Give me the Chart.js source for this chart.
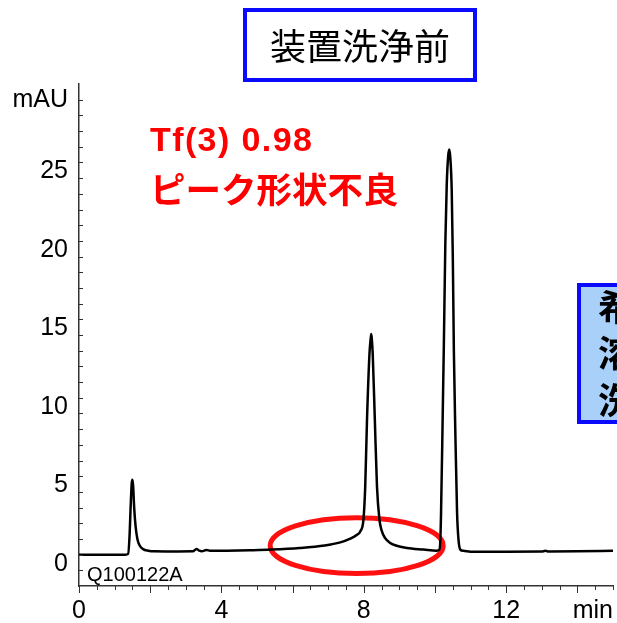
<!DOCTYPE html>
<html lang="ja">
<head>
<meta charset="utf-8">
<title>装置洗浄前</title>
<script src="https://cdn.jsdelivr.net/npm/chart.js@4.4.1/dist/chart.umd.min.js"></script>
<style>
    html, body {
        margin: 0;
        padding: 0;
        background: #fff;
        overflow: hidden;
    }
    #chromatogram {
        display: block;
    }
</style>
</head>
<body>
<canvas id="chromatogram" width="617" height="623"></canvas>
<script>
const sampleName = "Q100122A";
const yUnit = "mAU";
const xUnit = "min";
const titleText = "装置洗浄前";
const noteLines = ["Tf(3) 0.98", "ピーク形状不良"];
const sideLines = ["希硝酸", "溶液で", "洗浄後"];

const xTickLabels = [0, 4, 8, 12];
const yTickLabels = [0, 5, 10, 15, 20, 25];

const retentionTimes = [
    0.00, 0.50, 1.00, 1.30, 1.38, 1.42, 1.45, 1.48, 1.50, 1.52,
    1.55, 1.59, 1.64, 1.70, 1.80, 1.95, 2.10, 2.60, 3.20, 3.30,
    3.38, 3.45, 3.58, 3.70, 4.15, 4.80, 5.40, 6.20, 6.90, 7.34,
    7.62, 7.80, 7.90, 7.99, 8.04, 8.09, 8.16, 8.19, 8.21, 8.23,
    8.25, 8.31, 8.37, 8.44, 8.50, 8.60, 8.72, 8.90, 9.21, 9.68,
    10.05, 10.12, 10.15, 10.17, 10.21, 10.25, 10.29, 10.33, 10.37, 10.40,
    10.43, 10.47, 10.50, 10.53, 10.57, 10.62, 10.66, 10.71, 10.80, 11.08,
    12.00, 13.00, 13.10, 13.20, 14.00, 15.00
];

const absorbance = [
    0.00, 0.00, 0.00, 0.00, 0.05, 1.20, 3.00, 4.50, 4.77, 4.40,
    3.00, 1.80, 1.00, 0.60, 0.35, 0.25, 0.21, 0.20, 0.21, 0.36,
    0.25, 0.22, 0.30, 0.24, 0.25, 0.28, 0.32, 0.42, 0.58, 0.78,
    1.02, 1.25, 1.48, 2.23, 4.35, 8.59, 12.83, 13.70, 14.06, 13.60,
    12.83, 8.59, 4.35, 2.23, 1.55, 1.05, 0.78, 0.58, 0.42, 0.32,
    0.25, 0.30, 0.95, 2.67, 7.95, 13.60, 19.80, 23.60, 25.40, 25.83,
    25.30, 23.20, 19.00, 13.00, 7.95, 2.67, 0.95, 0.32, 0.24, 0.18,
    0.19, 0.20, 0.24, 0.20, 0.21, 0.25
];

// red circle around the tailing region, in data units
const tailingMark = { x: 7.8, y: 0.57, rx: 2.43, ry: 1.78 };

const axisColor = "#333";
const boxBlue = "#0a0aff";
const fontFamily = "'Liberation Sans', Arial, sans-serif";
const cjkFamily = "'Noto Sans CJK JP', sans-serif";

function drawTitleBox(ctx) {
    ctx.fillStyle = "#fff";
    ctx.fillRect(245, 10, 230, 70);
    ctx.strokeStyle = boxBlue;
    ctx.lineWidth = 4;
    ctx.strokeRect(245, 10, 230, 70);

    ctx.fillStyle = "#000";
    ctx.font = `36px ${cjkFamily}`;
    ctx.textAlign = "center";
    ctx.textBaseline = "middle";
    ctx.fillText(titleText, 360, 46);
}

function drawNote(ctx) {
    ctx.fillStyle = "#ff0000";
    ctx.textAlign = "left";
    ctx.textBaseline = "middle";
    ctx.font = `bold 34px ${fontFamily}`;
    ctx.letterSpacing = "1.4px";
    ctx.fillText(noteLines[0], 150, 142);
    ctx.letterSpacing = "0px";
    ctx.font = `bold 35.5px ${cjkFamily}`;
    ctx.fillText(noteLines[1], 150, 190);
}

function drawSideBox(ctx) {
    ctx.fillStyle = "#a8d0f8";
    ctx.fillRect(579, 285, 100, 137);
    ctx.strokeStyle = boxBlue;
    ctx.lineWidth = 4;
    ctx.strokeRect(579, 285, 100, 137);

    ctx.fillStyle = "#000";
    ctx.font = `bold 36px ${cjkFamily}`;
    ctx.textAlign = "left";
    ctx.textBaseline = "middle";
    sideLines.forEach((line, i) => {
        ctx.fillText(line, 598, 307 + i * 46.5);
    });
}

const decorations = {
    id: "decorations",
    beforeDatasetsDraw(chart) {
        const { ctx, scales: { x, y } } = chart;
        const cx = x.getPixelForValue(tailingMark.x);
        const cy = y.getPixelForValue(tailingMark.y);
        const rx = x.getPixelForValue(tailingMark.x + tailingMark.rx) - cx;
        const ry = cy - y.getPixelForValue(tailingMark.y + tailingMark.ry);

        ctx.save();
        ctx.strokeStyle = "#ff1010";
        ctx.lineWidth = 5;
        ctx.beginPath();
        ctx.ellipse(cx, cy, rx, ry, 0, 0, Math.PI * 2);
        ctx.stroke();
        ctx.restore();
    },
    afterDraw(chart) {
        const { ctx, chartArea, scales: { x, y } } = chart;

        ctx.save();
        ctx.strokeStyle = axisColor;
        ctx.lineWidth = 1;
        ctx.beginPath();
        for (let v = y.min + 1; v < y.max; v += 1) {
            const py = Math.round(y.getPixelForValue(v)) + 0.5;
            ctx.moveTo(chartArea.left, py);
            ctx.lineTo(chartArea.left + 4, py);
        }
        for (let i = 0; i <= (x.max - x.min) * 2; i++) {
            const px = Math.round(x.getPixelForValue(x.min + i / 2)) + 0.5;
            const len = i % 4 === 0 ? 7 : 4;
            ctx.moveTo(px, chartArea.bottom);
            ctx.lineTo(px, chartArea.bottom + len);
        }
        ctx.stroke();

        ctx.fillStyle = "#000";
        ctx.font = `25px ${fontFamily}`;
        ctx.textBaseline = "middle";
        ctx.textAlign = "right";
        ctx.fillText(yUnit, chartArea.left - 11, chartArea.top + 16);
        ctx.fillText(xUnit, chartArea.right, chartArea.bottom + 25);

        ctx.font = `20px ${fontFamily}`;
        ctx.textAlign = "left";
        ctx.fillText(sampleName, chartArea.left + 8, chartArea.bottom - 11);

        drawTitleBox(ctx);
        drawNote(ctx);
        drawSideBox(ctx);
        ctx.restore();
    }
};

const chromatogramCanvas = document.getElementById("chromatogram");

const chromatogramChart = new Chart(chromatogramCanvas, {
    type: "line",
    data: {
        datasets: [{
            label: sampleName,
            data: retentionTimes.map((t, i) => ({ x: t, y: absorbance[i] })),
            borderColor: "#000",
            borderWidth: 2.5,
            pointRadius: 0,
            fill: false,
            cubicInterpolationMode: "monotone"
        }]
    },
    options: {
        responsive: false,
        animation: false,
        devicePixelRatio: 1,
        layout: {
            padding: { top: 84, right: 4, left: 0, bottom: 0 }
        },
        plugins: {
            legend: { display: false },
            title: { display: false },
            tooltip: { enabled: false }
        },
        scales: {
            x: {
                type: "linear",
                min: 0,
                max: 15,
                afterFit: (scale) => { scale.height = 37; },
                afterBuildTicks: (scale) => {
                    scale.ticks = xTickLabels.map((value) => ({ value }));
                },
                grid: { display: false, drawTicks: false },
                border: { display: true, color: axisColor, width: 1.5 },
                ticks: {
                    color: "#000",
                    padding: 10,
                    maxRotation: 0,
                    font: { family: fontFamily, size: 25 }
                }
            },
            y: {
                type: "linear",
                min: -2,
                max: 30,
                afterFit: (scale) => { scale.width = 79; },
                afterBuildTicks: (scale) => {
                    scale.ticks = yTickLabels.map((value) => ({ value }));
                },
                grid: { display: false, drawTicks: false },
                border: { display: true, color: axisColor, width: 1.5 },
                ticks: {
                    color: "#000",
                    padding: 11,
                    labelOffset: 9,
                    font: { family: fontFamily, size: 25 }
                }
            }
        }
    },
    plugins: [decorations]
});
</script>
</body>
</html>
